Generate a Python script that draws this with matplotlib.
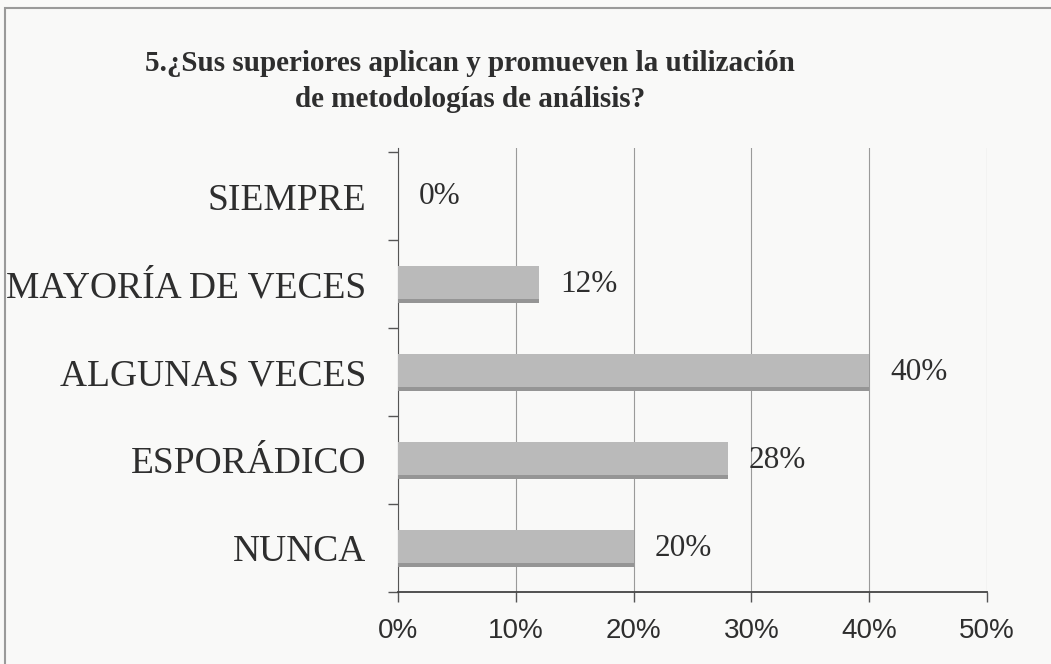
import matplotlib.pyplot as plt
from matplotlib.patches import Rectangle
from matplotlib.ticker import FixedLocator

# categorías de abajo hacia arriba
categorias = ['NUNCA', 'ESPORÁDICO', 'ALGUNAS VECES', 'MAYORÍA DE VECES', 'SIEMPRE']
valores = [20, 28, 40, 12, 0]
ticks_x = [0, 10, 20, 30, 40, 50]
etiquetas_x = ['0%', '10%', '20%', '30%', '40%', '50%']
titulo = '5.¿Sus superiores aplican y promueven la utilización\nde metodologías de análisis?'

texto = '#2e2e2e'
serif = ['Liberation Serif', 'DejaVu Serif']

fig = plt.figure(figsize=(10.51, 6.64), dpi=100)
fig.patch.set_facecolor('#f9f9f8')

# marco del recuadro escaneado
fig.patches.append(Rectangle((0.005, -0.02), 1.2, 1.008, transform=fig.transFigure,
                             fill=False, edgecolor='#9a9a9a', linewidth=1.5))

ax = fig.add_axes([0.3787, 0.1084, 0.5605, 0.6687])
ax.set_facecolor('none')

y = list(range(len(categorias)))
ax.barh(y, valores, height=0.42, color='#bababa', edgecolor='none', zorder=3)
# borde inferior más oscuro de cada barra
ax.barh([v - 0.19 for v in y], valores, height=0.04, color='#959595', edgecolor='none', zorder=3)

for yi, v in zip(y, valores):
    ax.text(v + 1.8, yi, f'{v}%', va='center', ha='left', fontsize=22.5,
            color=texto, family=serif)

ax.set_xlim(0, 50)
ax.set_ylim(-0.5, 4.55)
ax.set_xticks(ticks_x)
ax.set_xticklabels(etiquetas_x, fontsize=20, color=texto, family=['Liberation Sans', 'DejaVu Sans'])
ax.set_yticks(y)
ax.set_yticklabels(categorias, fontsize=27, color=texto, family=serif)
ax.yaxis.set_minor_locator(FixedLocator([-0.5, 0.5, 1.5, 2.5, 3.5, 4.5]))
ax.tick_params(axis='y', which='major', length=0, pad=23)
ax.tick_params(axis='y', which='minor', length=7, color='#555555', width=1)
ax.tick_params(axis='x', length=7, color='#555555', width=1, pad=12)

ax.grid(axis='x', color='#9a9a9a', linewidth=0.8, zorder=0)
for s in ['top', 'right']:
    ax.spines[s].set_visible(False)
ax.spines['left'].set_color('#555555')
ax.spines['bottom'].set_color('#444444')
ax.spines['bottom'].set_linewidth(1.3)

fig.text(0.447, 0.877, titulo, ha='center', va='center', fontsize=21,
         fontweight='bold', color=texto, family=serif, linespacing=1.45)

fig.savefig('out.png', dpi=100, facecolor=fig.get_facecolor())
